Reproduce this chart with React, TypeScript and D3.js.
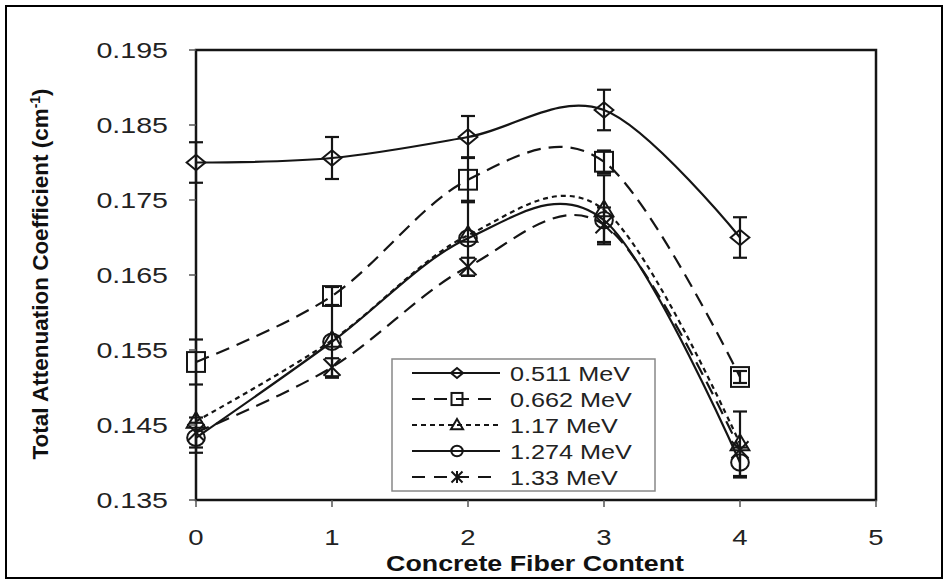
import React from "react";
import * as d3 from "d3";

const xValues = [0, 1, 2, 3, 4];
const seriesNames = ["0.511 MeV", "0.662 MeV", "1.17 MeV", "1.274 MeV", "1.33 MeV"];
const v0511 = [0.18, 0.1806, 0.1834, 0.187, 0.17];
const v0662 = [0.1534, 0.1622, 0.1777, 0.1801, 0.1514];
const v117 = [0.1455, 0.1563, 0.1703, 0.1737, 0.1425];
const v1274 = [0.1433, 0.1561, 0.1699, 0.1723, 0.14];
const v133 = [0.144, 0.1527, 0.1661, 0.1717, 0.1417];
const e0511 = [0.0027, 0.0028, 0.0028, 0.0027, 0.0027];
const e0662 = [0.003, 0.0012, 0.003, 0.0015, 0.0008];
const e117 = [0, 0, 0, 0.0046, 0.0043];
const e1274 = [0.002, 0.0048, 0.005, 0, 0.002];
const e133 = [0.002, 0.0012, 0.0012, 0.0023, 0];
const yTicks = [0.135, 0.145, 0.155, 0.165, 0.175, 0.185, 0.195];
const xTicks = [0, 1, 2, 3, 4, 5];

const W = 948;
const H = 584;
const FONT = "'Liberation Sans', Arial, sans-serif";
const INK = "#151515";

type Marker = "diamond" | "square" | "triangle" | "circle" | "star";
const values = [v0511, v0662, v117, v1274, v133];
const errors = [e0511, e0662, e117, e1274, e133];
const markers: Marker[] = ["diamond", "square", "triangle", "circle", "star"];
const dashes = ["none", "14,8", "5,4", "none", "14,8"];

function MarkerShape({ kind, cx, cy, s }: { kind: Marker; cx: number; cy: number; s: number }) {
  const common = { fill: "none", stroke: INK, strokeWidth: 2 };
  if (kind === "diamond") {
    const w = s * 0.55, h = s * 0.45;
    return <path d={`M${cx - w},${cy}L${cx},${cy - h}L${cx + w},${cy}L${cx},${cy + h}Z`} {...common} />;
  }
  if (kind === "square") {
    const w = s * 0.5, h = s * 0.55;
    return <rect x={cx - w} y={cy - h} width={2 * w} height={2 * h} {...common} />;
  }
  if (kind === "triangle") {
    const r = s * 0.55;
    return <path d={`M${cx},${cy - r}L${cx + r},${cy + r * 0.7}L${cx - r},${cy + r * 0.7}Z`} {...common} />;
  }
  if (kind === "circle") {
    return <ellipse cx={cx} cy={cy} rx={s * 0.52} ry={s * 0.48} {...common} />;
  }
  const r = s * 0.5;
  return (
    <g {...common}>
      <path d={`M${cx - r},${cy - r}L${cx + r},${cy + r}M${cx - r},${cy + r}L${cx + r},${cy - r}M${cx},${cy - r * 1.1}L${cx},${cy + r * 1.1}`} />
    </g>
  );
}

function SText({ x, y, sx, anchor, size, bold, children, dy }: any) {
  return (
    <g transform={`translate(${x},${y}) scale(${sx},1)`}>
      <text
        x={0}
        y={0}
        dy={dy}
        textAnchor={anchor}
        fontFamily={FONT}
        fontSize={size}
        fontWeight={bold ? "bold" : "normal"}
        fill={bold ? "#111" : "#222"}
      >
        {children}
      </text>
    </g>
  );
}

export default function App() {
  const x = d3.scaleLinear().domain([0, 5]).range([196, 876]);
  const y = d3.scaleLinear().domain([0.135, 0.195]).range([500, 50]);
  const line = d3
    .line<[number, number]>()
    .x((d) => x(d[0]))
    .y((d) => y(d[1]))
    .curve(d3.curveCardinal.tension(0));

  const legX = 392, legY = 359, legW = 263, legH = 132;
  const rowY = (i: number) => legY + 14 + i * 26;

  return (
    <svg width={W} height={H} style={{ position: "absolute", left: 0, top: 0 }}>
      <rect x={0} y={0} width={W} height={H} fill="#fff" />
      <rect x={6} y={6} width={936} height={572} fill="none" stroke="#000" strokeWidth={2} />

      {/* series lines */}
      {values.map((vals, si) => (
        <path
          key={"l" + si}
          d={line(xValues.map((xv, i) => [xv, vals[i]] as [number, number])) || ""}
          fill="none"
          stroke={INK}
          strokeWidth={2.2}
          strokeDasharray={dashes[si]}
        />
      ))}

      {/* error bars */}
      {values.map((vals, si) =>
        xValues.map((xv, i) => {
          const e = errors[si][i];
          if (!e) return null;
          const cx = x(xv);
          const y1 = y(vals[i] + e), y2 = y(vals[i] - e);
          return (
            <g key={`e${si}-${i}`} stroke={INK} strokeWidth={2.2}>
              <line x1={cx} x2={cx} y1={y1} y2={y2} />
              <line x1={cx - 7} x2={cx + 7} y1={y1} y2={y1} />
              <line x1={cx - 7} x2={cx + 7} y1={y2} y2={y2} />
            </g>
          );
        })
      )}

      {/* markers */}
      {values.map((vals, si) =>
        xValues.map((xv, i) => (
          <MarkerShape key={`m${si}-${i}`} kind={markers[si]} cx={x(xv)} cy={y(vals[i])} s={markers[si] === "square" ? 18 : 17} />
        ))
      )}

      {/* plot frame */}
      <rect x={196} y={50} width={680} height={450} fill="none" stroke={INK} strokeWidth={2.5} />

      {/* y axis ticks */}
      {yTicks.map((t) => (
        <g key={"yt" + t}>
          <line x1={189} x2={196} y1={y(t)} y2={y(t)} stroke="#555" strokeWidth={1.5} />
          <SText x={168} y={y(t)} dy="0.35em" sx={1.3} anchor="end" size={22}>
            {d3.format(".3f")(t)}
          </SText>
        </g>
      ))}
      {/* x axis ticks */}
      {xTicks.map((t) => (
        <g key={"xt" + t}>
          <line x1={x(t)} x2={x(t)} y1={500} y2={507} stroke="#555" strokeWidth={1.5} />
          <SText x={x(t)} y={545} sx={1.25} anchor="middle" size={22}>
            {t}
          </SText>
        </g>
      ))}

      <SText x={535} y={571} sx={1.22} anchor="middle" size={22} bold>
        Concrete Fiber Content
      </SText>
      <text
        transform="translate(48,274) rotate(-90)"
        textAnchor="middle"
        fontFamily={FONT}
        fontSize={22.5}
        fontWeight="bold"
        fill="#111"
      >
        Total Attenuation Coefficient (cm<tspan dy={-8} fontSize={14}>-1</tspan>
        <tspan dy={8}>)</tspan>
      </text>

      {/* legend */}
      <rect x={legX} y={legY} width={legW} height={legH} fill="#fff" stroke="#888" strokeWidth={1.5} />
      {seriesNames.map((name, i) => (
        <g key={"lg" + i}>
          <line x1={412} x2={500} y1={rowY(i)} y2={rowY(i)} stroke={INK} strokeWidth={2.2} strokeDasharray={dashes[i] === "none" ? undefined : i === 2 ? "5,4" : "13,9"} />
          <MarkerShape kind={markers[i]} cx={457} cy={rowY(i)} s={11} />
          <SText x={510} y={rowY(i)} dy="0.36em" sx={1.2} anchor="start" size={21}>
            {name}
          </SText>
        </g>
      ))}
    </svg>
  );
}
